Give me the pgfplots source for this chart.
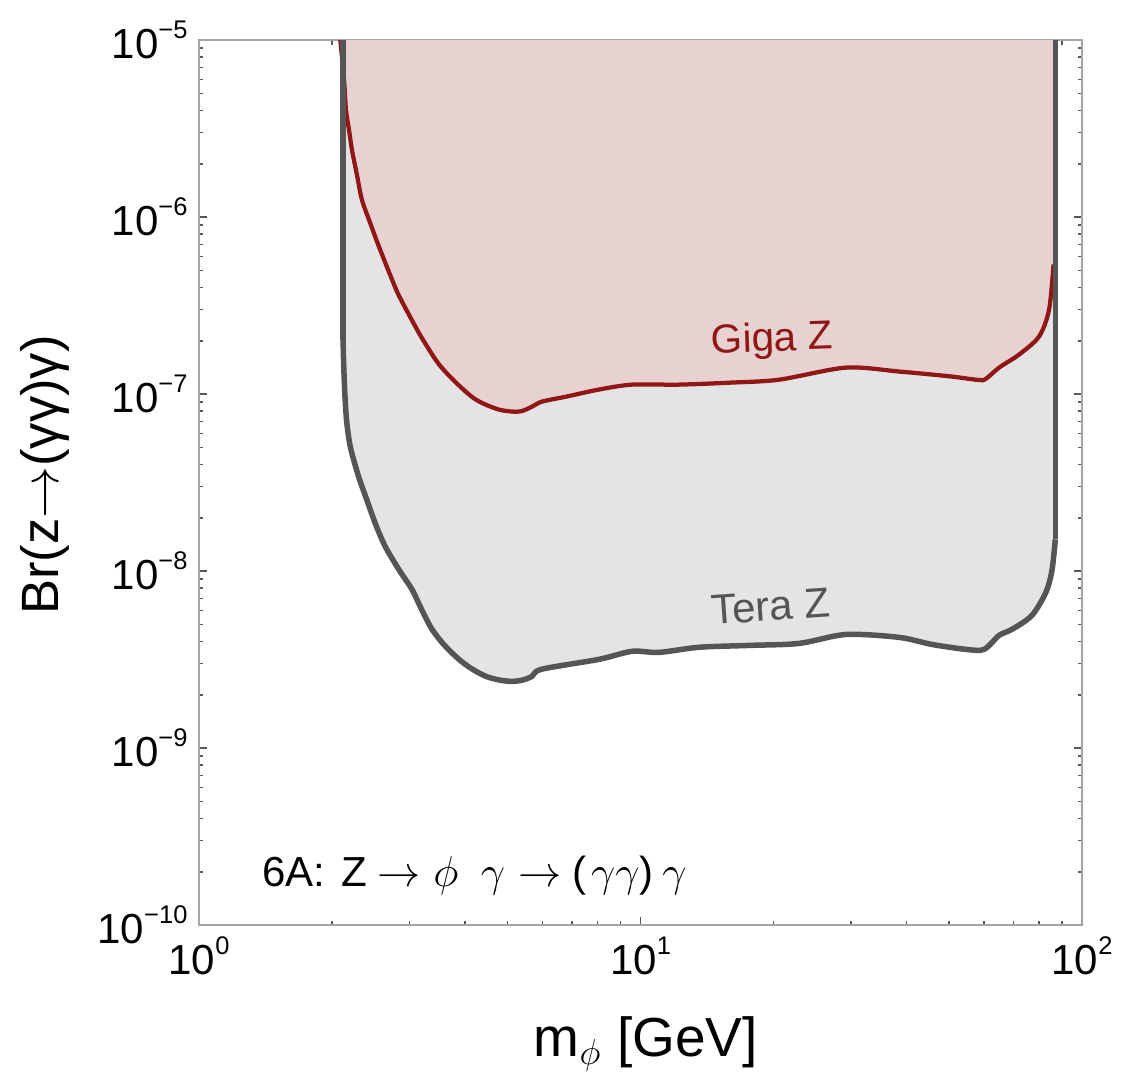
\documentclass[border=0pt]{standalone}
\usepackage{fontspec}
\setmainfont{Liberation Sans}
\usepackage{pgfplots}
\pgfplotsset{compat=1.18}
\definecolor{gzred}{RGB}{145,22,22}
\definecolor{gzfill}{RGB}{232,209,209}
\definecolor{tzfill}{RGB}{228,228,228}
\definecolor{tzline}{RGB}{85,85,85}
\definecolor{frame}{RGB}{165,165,165}
\newcommand{\tp}[1]{10\raisebox{7.8pt}{\fontsize{10.2}{11}\selectfont #1}}
\begin{document}
\begin{tikzpicture}
\path (-79.6pt,-57.6pt) rectangle (368.8pt,370pt);
\begin{axis}[
  at={(0,0)}, anchor=south west,
  scale only axis, width=353.2pt, height=354pt,
  xmode=log, ymode=log,
  xmin=1, xmax=100, ymin=1e-10, ymax=1e-5,
  axis line style={frame, line width=0.8pt},
  xtick={1,10,100},
  xticklabels={\tp{0},\tp{1},\tp{2}},
  ytick={1e-10,1e-9,1e-8,1e-7,1e-6,1e-5},
  yticklabels={\tp{−10},\tp{−9},\tp{−8},\tp{−7},\tp{−6},\tp{−5}},
  minor xtick={2,3,4,5,6,7,8,9,20,30,40,50,60,70,80,90},
  minor ytick={2e-10,3e-10,4e-10,5e-10,6e-10,7e-10,8e-10,9e-10,
               2e-9,3e-9,4e-9,5e-9,6e-9,7e-9,8e-9,9e-9,
               2e-8,3e-8,4e-8,5e-8,6e-8,7e-8,8e-8,9e-8,
               2e-7,3e-7,4e-7,5e-7,6e-7,7e-7,8e-7,9e-7,
               2e-6,3e-6,4e-6,5e-6,6e-6,7e-6,8e-6,9e-6},
  major tick length=3.4pt, minor tick length=1.8pt,
  every tick/.style={black!65, line width=0.6pt},
  tick align=inside,
  xticklabel style={font=\fontsize{16.8}{20}\selectfont, inner sep=0pt, yshift=-4.6pt, anchor=north},
  yticklabel style={font=\fontsize{16.8}{20}\selectfont, inner sep=0pt, xshift=-4.4pt, anchor=east},
  clip mode=individual,
]
% Tera Z region (gray)
\addplot[fill=tzfill, draw=none] coordinates {
 (2.12,1e-5) (2.12,2.03e-7) (2.128,1.4e-7) (2.142,9.5e-8) (2.16,7.0e-8) (2.19,5.4e-8)
 (2.221,4.6e-8) (2.30,3.4e-8) (2.389,2.6e-8) (2.52,1.8e-8)
 (2.652,1.35e-8) (2.85,1.0e-8) (3.037,7.87e-9) (3.2,6.0e-9) (3.372,4.68e-9) (3.6,3.8e-9)
 (3.88,3.17e-9) (4.15,2.8e-9) (4.467,2.54e-9)
 (4.8,2.42e-9) (5.117,2.38e-9) (5.4,2.42e-9) (5.68,2.54e-9) (5.98,2.79e-9) (8.05,3.17e-9) (9.57,3.52e-9)
 (11.01,3.47e-9) (13.57,3.71e-9) (17.6,3.80e-9) (22.86,3.9e-9) (29.2,4.38e-9)
 (38.5,4.22e-9) (45.7,3.85e-9) (54.6,3.61e-9) (60.0,3.61e-9) (64.9,4.33e-9)
 (69.4,4.68e-9) (77.0,5.61e-9) (82.8,7.57e-9) (85.5,1.01e-8) (87.0,1.51e-8) (87.0,1e-5)
} -- cycle;
% Giga Z region (pink)
\addplot[fill=gzfill, draw=none] coordinates {
 (2.09,1e-5) (2.131,5.94e-6) (2.152,4.03e-6) (2.187,3.10e-6) (2.221,2.39e-6)
 (2.279,1.73e-6) (2.339,1.25e-6) (2.427,9.64e-7)
 (2.557,6.79e-7) (2.737,4.43e-7) (2.838,3.59e-7) (3.101,2.37e-7) (3.267,1.90e-7)
 (3.497,1.47e-7) (3.82,1.16e-7) (4.24,9.29e-8) (4.78,8.17e-8) (5.31,7.96e-8)
 (5.68,8.49e-8) (5.98,9.06e-8) (6.78,9.66e-8) (8.05,1.06e-7) (9.57,1.13e-7)
 (12.2,1.13e-7) (16.0,1.16e-7) (20.6,1.205e-7) (29.2,1.41e-7) (38.5,1.34e-7)
 (50.0,1.26e-7) (58.45,1.2e-7) (60.6,1.22e-7) (64.9,1.41e-7) (72.0,1.67e-7)
 (79.9,2.11e-7) (84.2,2.99e-7) (86.2,5.4e-7) (87.0,1e-5)
} -- cycle;
% Giga Z line
\addplot[gzred, line width=1.7pt, smooth, tension=0.5] coordinates {
 (2.09,1e-5) (2.131,5.94e-6) (2.152,4.03e-6) (2.187,3.10e-6) (2.221,2.39e-6)
 (2.279,1.73e-6) (2.339,1.25e-6) (2.427,9.64e-7)
 (2.557,6.79e-7) (2.737,4.43e-7) (2.838,3.59e-7) (3.101,2.37e-7) (3.267,1.90e-7)
 (3.497,1.47e-7) (3.82,1.16e-7) (4.24,9.29e-8) (4.78,8.17e-8) (5.31,7.96e-8)
 (5.68,8.49e-8) (5.98,9.06e-8) (6.78,9.66e-8) (8.05,1.06e-7) (9.57,1.13e-7)
 (12.2,1.13e-7) (16.0,1.16e-7) (20.6,1.205e-7) (29.2,1.41e-7) (38.5,1.34e-7)
 (50.0,1.26e-7) (58.45,1.2e-7) (60.6,1.22e-7) (64.9,1.41e-7) (72.0,1.67e-7)
 (79.9,2.11e-7) (84.2,2.99e-7) (86.2,5.4e-7)
};
% Tera Z line: left edge, curve, right edge
\addplot[tzline, line width=2.2pt] coordinates {(2.12,1e-5) (2.12,2.03e-7)};
\addplot[tzline, line width=2.2pt, smooth, tension=0.5] coordinates {
 (2.12,2.03e-7) (2.128,1.4e-7) (2.142,9.5e-8) (2.16,7.0e-8) (2.19,5.4e-8)
 (2.221,4.6e-8) (2.30,3.4e-8) (2.389,2.6e-8) (2.52,1.8e-8)
 (2.652,1.35e-8) (2.85,1.0e-8) (3.037,7.87e-9) (3.2,6.0e-9) (3.372,4.68e-9) (3.6,3.8e-9)
 (3.88,3.17e-9) (4.15,2.8e-9) (4.467,2.54e-9)
 (4.8,2.42e-9) (5.117,2.38e-9) (5.4,2.42e-9) (5.68,2.54e-9) (5.98,2.79e-9) (8.05,3.17e-9) (9.57,3.52e-9)
 (11.01,3.47e-9) (13.57,3.71e-9) (17.6,3.80e-9) (22.86,3.9e-9) (29.2,4.38e-9)
 (38.5,4.22e-9) (45.7,3.85e-9) (54.6,3.61e-9) (60.0,3.61e-9) (64.9,4.33e-9)
 (69.4,4.68e-9) (77.0,5.61e-9) (82.8,7.57e-9) (85.5,1.01e-8) (87.0,1.51e-8)
};
\addplot[tzline, line width=2.2pt] coordinates {(87.0,1.51e-8) (87.0,1e-5)};
\node[gzred, font=\fontsize{16.2}{19}\selectfont, rotate=2] at (axis cs:19.86,2.0e-7) {Giga Z};
\node[tzline, font=\fontsize{16.8}{20}\selectfont, rotate=4] at (axis cs:19.75,6.31e-9) {Tera Z};
\node[anchor=base west, inner sep=0pt, font=\fontsize{16.8}{20}\selectfont] at (axis cs:1.389,1.66e-10)
  {6A:\hspace{6.4pt}Z\hspace{4pt}$\rightarrow$\hspace{5.2pt}$\phi$\hspace{9pt}$\gamma$\hspace{5.5pt}$\rightarrow$\hspace{4pt}(\hspace{2pt}$\gamma\gamma$)\hspace{3.5pt}$\gamma$};
\node[rotate=90, anchor=center, font=\fontsize{21}{24}\selectfont] at (axis description cs:-0.1744,0.5085) {Br(z$\rightarrow$(γγ)γ)};
\node[anchor=base, font=\fontsize{22}{25}\selectfont] at (axis description cs:0.506,-0.149) {m$_\phi$ [GeV]};
\end{axis}
\end{tikzpicture}
\end{document}
